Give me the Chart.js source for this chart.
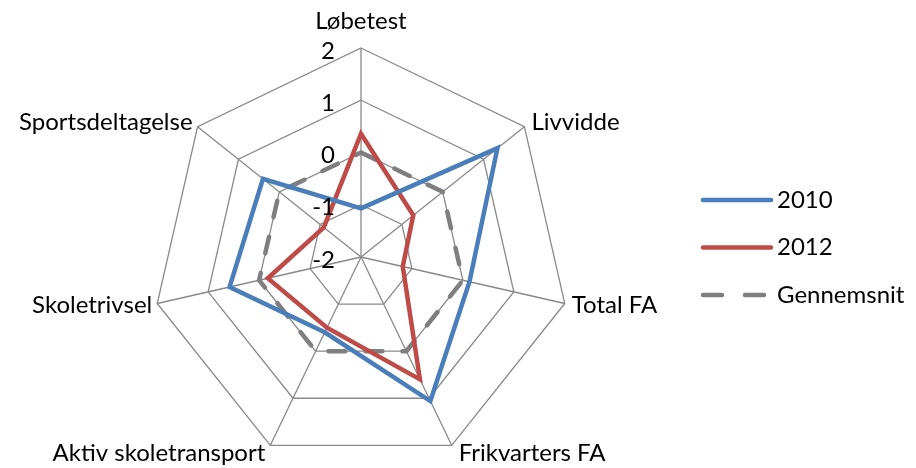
<!DOCTYPE html>
<html>
<head>
<meta charset="utf-8">
<script src="https://cdn.jsdelivr.net/npm/chart.js@4"></script>
<style>
  html, body { margin: 0; padding: 0; background: #fff; }
  #wrap { width: 916px; height: 468px; }
</style>
</head>
<body>
<div id="wrap"><canvas id="radar" width="916" height="468"></canvas></div>
<script>
const labels = ['Løbetest', 'Livvidde', 'Total FA', 'Frikvarters FA', 'Aktiv skoletransport', 'Skoletrivsel', 'Sportsdeltagelse']
const values2010 = [-1.07, 1.34, 0.13, 1.06, -0.40, 0.58, 0.40]
const values2012 = [0.36, -0.72, -1.18, 0.60, -0.50, -0.17, -1.09]
const gennemsnit = [0, 0, 0, 0, 0, 0, 0]
const scaleMin = -2
const scaleMax = 2
const scaleStep = 1

const FONT = '24px Lato, "Open Sans", sans-serif'

// tick labels and point labels drawn next to the axes, the way Excel places them
const excelLabels = {
    id: 'excelLabels',
    afterDatasetsDraw(chart) {
        const r = chart.scales.r
        const ctx = chart.ctx
        ctx.save()
        ctx.font = FONT
        ctx.fillStyle = '#000'
        ctx.textBaseline = 'middle'

        ctx.textAlign = 'right'
        r.ticks.forEach(t => {
            const p = r.getPointPositionForValue(0, t.value)
            ctx.fillText(String(t.value), r.xCenter - 26, p.y + 3)
        })

        labels.forEach((lab, i) => {
            const p = r.getPointPosition(i, r.drawingArea)
            let x = p.x, y = p.y
            if (x > r.xCenter + 1) { ctx.textAlign = 'left'; x += 7 }
            else if (x < r.xCenter - 1) { ctx.textAlign = 'right'; x -= 5 }
            else ctx.textAlign = 'center'
            if (i === 0) y -= 27
            else if (y > r.yCenter + 100) y += 8
            else if (y < r.yCenter) y -= 4
            else y += 2
            ctx.fillText(lab, x, y)
        })
        ctx.restore()
    }
}

const sideLegend = {
    id: 'sideLegend',
    afterDraw(chart) {
        const ctx = chart.ctx
        ctx.save()
        ctx.font = FONT
        ctx.textBaseline = 'middle'
        ctx.textAlign = 'left'
        chart.data.datasets.forEach((ds, i) => {
            const y = 200 + i * 47.5
            ctx.strokeStyle = ds.borderColor
            ctx.lineWidth = ds.borderWidth
            ctx.lineCap = 'round'
            ctx.setLineDash(ds.borderDash ? [19, 23] : [])
            ctx.beginPath()
            ctx.moveTo(703, y)
            ctx.lineTo(ds.borderDash ? 770 : 771, y)
            ctx.stroke()
            ctx.setLineDash([])
            ctx.fillStyle = '#000'
            ctx.fillText(ds.label, 777, y)
        })
        ctx.restore()
    }
}

window.onload = () => {
    const ctx = document.getElementById('radar').getContext('2d')
    new Chart(ctx, {
        type: 'radar',
        data: {
            labels: labels,
            datasets: [
                { label: '2010', data: values2010, borderColor: '#4a7ebb', borderWidth: 4.5, fill: false, pointRadius: 0, borderJoinStyle: 'miter' },
                { label: '2012', data: values2012, borderColor: '#be4b48', borderWidth: 4.5, fill: false, pointRadius: 0, borderJoinStyle: 'miter' },
                { label: 'Gennemsnit', data: gennemsnit, borderColor: '#7f7f7f', borderWidth: 4.5, fill: false, pointRadius: 0, borderDash: [17, 20], borderCapStyle: 'round' }
            ]
        },
        options: {
            responsive: false,
            animation: false,
            layout: { padding: { left: 152, right: 346, top: 48, bottom: 2 } },
            plugins: { legend: { display: false }, tooltip: { enabled: false } },
            scales: {
                r: {
                    min: scaleMin, max: scaleMax,
                    ticks: { stepSize: scaleStep, display: false },
                    grid: { color: '#898989', lineWidth: 1.3 },
                    angleLines: { color: '#898989', lineWidth: 1.3 },
                    pointLabels: { display: false }
                }
            }
        },
        plugins: [excelLabels, sideLegend]
    })
}
</script>
</body>
</html>
